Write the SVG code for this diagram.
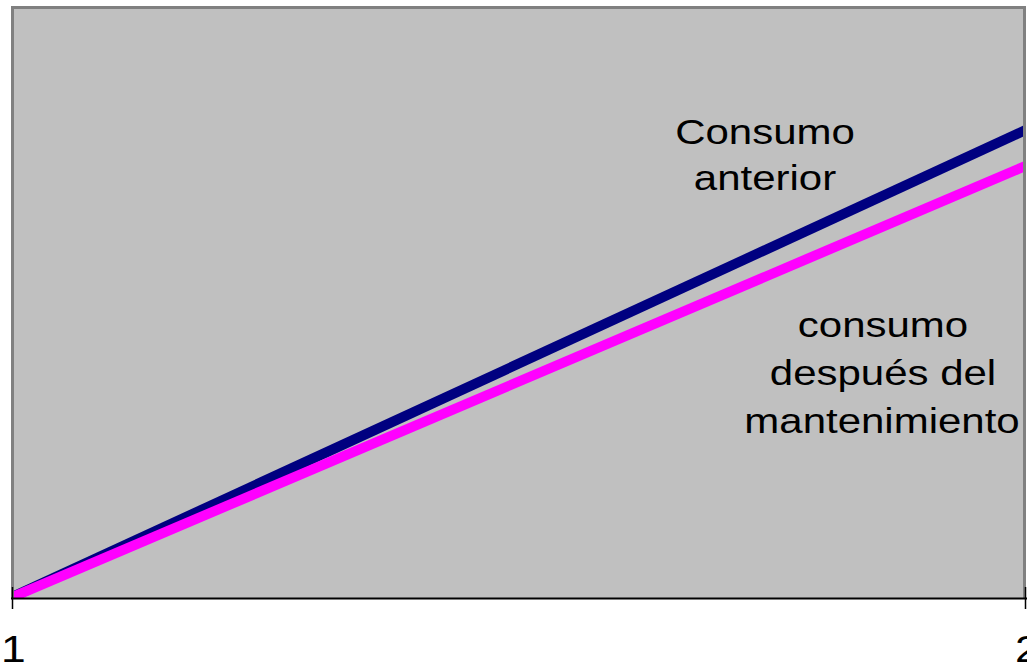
<svg xmlns="http://www.w3.org/2000/svg" width="1027" height="667" viewBox="0 0 1027 667">
  <style>
    .lbl { font-family: "Liberation Sans", Arial, sans-serif; font-size: 35px; fill: #000; text-anchor: middle; }
    .tick { font-family: "Liberation Sans", Arial, sans-serif; font-size: 37px; fill: #000; }
    .series { fill: none; stroke-width: 10; stroke-linecap: butt; }
  </style>
  <defs>
    <clipPath id="plotClip">
      <rect x="11" y="6" width="1014" height="592"/>
    </clipPath>
  </defs>
  <rect width="1027" height="667" fill="#ffffff"/>
  <g id="plot-area">
    <rect x="11" y="6" width="1015" height="592" fill="#c0c0c0"/>
  </g>
  <g id="connectors" clip-path="url(#plotClip)">
    <line class="series" x1="8" y1="599" x2="1030" y2="128" stroke="#000080"/>
    <line class="series" x1="8" y1="599" x2="1030" y2="164" stroke="#ff00ff"/>
  </g>
  <g id="plot-border">
    <path d="M12.5,598 V7.5 H1024.5 V598" fill="none" stroke="#808080" stroke-width="3"/>
  </g>
  <g id="axis">
    <line x1="11" y1="598.5" x2="1027" y2="598.5" stroke="#000" stroke-width="2"/>
    <line x1="12.5" y1="587" x2="12.5" y2="609" stroke="#000" stroke-width="1.5"/>
    <line x1="1025.5" y1="587" x2="1025.5" y2="609" stroke="#000" stroke-width="1.5"/>
  </g>
  <g id="label-anterior">
    <text class="lbl" transform="translate(765,144) scale(1.2,1)">Consumo</text>
    <text class="lbl" transform="translate(765,190) scale(1.2,1)">anterior</text>
  </g>
  <g id="label-despues">
    <text class="lbl" transform="translate(883,337) scale(1.2,1)">consumo</text>
    <text class="lbl" transform="translate(883,385) scale(1.2,1)">después del</text>
    <text class="lbl" transform="translate(882,433) scale(1.2,1)">mantenimiento</text>
  </g>
  <g id="tick-1">
    <text class="tick" transform="translate(1,662) scale(1.2,1)">1</text>
  </g>
  <g id="tick-2">
    <text class="tick" transform="translate(1015,662) scale(1.2,1)">2</text>
  </g>
</svg>
